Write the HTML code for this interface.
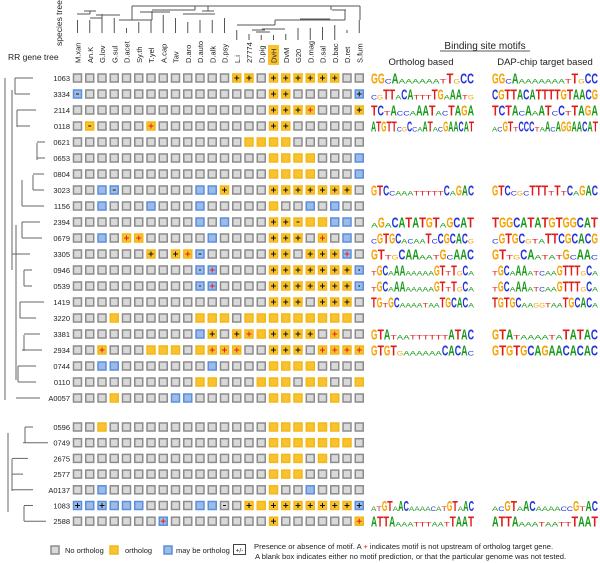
<!DOCTYPE html>
<html><head><meta charset="utf-8">
<style>
html,body{margin:0;padding:0;background:#fff;}
svg{display:block;font-family:"Liberation Sans",sans-serif;}
</style></head>
<body>
<svg id="fig" width="600" height="563" viewBox="0 0 600 563" xmlns="http://www.w3.org/2000/svg">
<g id="species-tree" stroke="#555" stroke-width="1" fill="none"></g>
<text transform="translate(62,46) rotate(-90)" font-size="8.5" fill="#222">species tree</text>
<text x="8" y="60" font-size="8.5" fill="#222">RR gene tree</text>
<g id="gene-tree" stroke="#666" stroke-width="1" fill="none"></g>
<g id="col-labels"></g>
<g id="row-labels"></g>
<g id="grid"></g>
<text x="485" y="49" font-size="10" text-anchor="middle" fill="#222">Binding site motifs</text>
<line x1="440" y1="51" x2="530" y2="51" stroke="#222" stroke-width="0.7"/>
<text x="421" y="65" font-size="9.5" text-anchor="middle" fill="#222">Ortholog based</text>
<text x="545" y="65" font-size="9.5" text-anchor="middle" fill="#222">DAP-chip target based</text>
<g id="logos"></g>
<g id="legend">
  <rect x="51" y="546" width="8" height="8" fill="#d9d9d9" stroke="#8c8c8c" stroke-width="1.5"/>
  <text x="65" y="553" font-size="7.5" fill="#222">No ortholog</text>
  <rect x="110" y="546" width="8" height="8" fill="#f9c22e" stroke="#f2b81a" stroke-width="1.5"/>
  <text x="125" y="553" font-size="7.5" fill="#222">ortholog</text>
  <rect x="164" y="546" width="8" height="8" fill="#9dbbe8" stroke="#5b8fd9" stroke-width="1.5"/>
  <text x="176" y="553" font-size="7.5" fill="#222">may be ortholog</text>
  <rect x="233.5" y="544.5" width="12" height="10" fill="#fff" stroke="#444" stroke-width="1"/>
  <text x="239.5" y="552.5" font-size="6.5" text-anchor="middle" fill="#222">+/-</text>
  <text x="254" y="549" font-size="7.6" fill="#222">Presence or absence of motif. A <tspan fill="#e02020">+</tspan> indicates motif is not upstream of ortholog target gene.</text>
  <text x="255" y="559" font-size="7.6" fill="#222">A blank box indicates either no motif prediction, or that the particular genome was not tested.</text>
</g>
</svg>
<script>
const species = ["M.xan","An.K","G.lov","G.sul","D.acet","Sy.th","T.yel","A.cap","Tav","D.aro","D.auto","D.alk","D.psy","L.i","27774","D.pig","DvH","DvM","G20","D.mag","D.sal","D.bac","D.ret","S.fum"];
const genes = ["1063","3334","2114","0118","0621","0653","0804","3023","1156","2394","0679","3305","0946","0539","1419","3220","3381","2934","0744","0110","A0057","0596","0749","2675","2577","A0137","1083","2588"];
const cells = [
"n n n n n n n n n n n n n o+ o+ n o+ o+ o+ o+ o+ o+ n n",
"m- n n n n n n n n n n n n n n n o+ o+ n n n n n m+",
"n n n n n n n n n n n n n n n n o+ o+ o+ or n n n o+",
"n o- n n n n or n n n n n n n n n o+ o+ n n n n n n",
"n n n n n n n n n n n n n n o o o o n n n n n n",
"n n n n n n n n n n n n n n n n o o o o n n n m",
"n n n n n n n n n n n n n n n n o o o o n n n m",
"n n m m- n n n n n n m m o+ n n n o+ o+ o+ o+ o+ o+ o+ n",
"n n m n n n m n n n m n n n n n o n n m n m n n",
"n n n n n n n n n n m n m n n n o+ o+ o- o o m m n",
"n n m n or or n n n n n m n n n n o+ o+ o+ n or n m n",
"n n n n n n o+ n o+ or m- n n n n n o+ o+ n o+ o+ o+ mr n",
"n n n n n n n n n n m. mr n n n n o+ o+ o+ o+ o+ o+ o+ m.",
"n n n n n n n n n n m. mr n n n n o+ o+ o+ o+ o+ o+ o+ m.",
"n n n n n n n n n n n n n n n n o+ o+ o+ n o+ o+ o+ n",
"n n n o n n n n n n o o o n o o o o o o o o o n",
"n n n n n n n n n n m o+ n o+ or o o+ o+ o+ o+ n or n n",
"n n or n n n o o o n o or or or n n o+ o+ o+ n or or or or",
"n n m m n n n n n n n m n n n n o o o o n n n n",
"n n n n n n n n n n o o n n n o o o n o o n n o",
"n n n o n n n n m m n n n n n n o o o n n o n n",
"n n o n n n n n n n n n n n n n o o o o o o n n",
"n n n n n n n n n n n n n n n n o o o o o o o n",
"n n n n n n n n n n n n n n n n o o o n o n n n",
"n n n n n n n n n n n n n n n n o o o n n n n n",
"n n m n n n n n n n n n n n n n o n n m n n n n",
"m+ m m+ m m m n n n n m m n- n o+ o o+ o+ o+ o+ o+ o+ o+ m+",
"n n n n n n n mr n n n n n n n n o+ n n n n n n or"
];
const motifGenes = ["1063","3334","2114","0118","3023","2394","0679","3305","0946","0539","1419","3381","2934","1083","2588"];
const orthoMotifs = ["GGcAaaaaaatTgCC","cgTTaCAtttTGaAAtg","TCtAccaAATacTAGA","ATGTTcgCcaATacGAACAT","GTCcaaatttttCaGAC","aGaCATATGTaGCAT","cGTGCacaaTcCGCACg","GTtgCAAaatGcAAC","tGCaAAaaaaaGTtTgCa","tGCaAAaaaaaGTtTgCa","TGtGCaaaataaTGCACa","GTAtaattttttATAC","GTGTgaaaaaaCACAc","atGTaACaaaacatGTaAC","ATTAaaatttaatTAAT"];
const dapMotifs = ["GGcAaaaaaaatTgCC","CGTTACATTTTGTAACG","TCTAcAaATcCtTAGA","acGTtCCCtaAcAGGAACAT","GTCcgcTTTtTtCaGAC","TGGCATATGTGGCAT","cGTGCgtaTTCGCACG","GTtgCAatatGcAAc","tGCaAAatcaaGTTTgCa","tGCaAAatcaaGTTTgCa","TGTGCaaggtaaTGCACa","GTAtaaaataTATAC","GTGTGCAGAACACAC","acGTaACaaaaccGtAC","ATTAaaataattTAAT"];

const NS="http://www.w3.org/2000/svg";
function mk(tag,parent,attrs){const e=document.createElementNS(NS,tag);for(const k in attrs)e.setAttribute(k,attrs[k]);parent.appendChild(e);return e;}
const colX = i => 73 + 12.25*i;
const rowY = i => i < 21 ? 78 + 16*i : 427 + 15.7*(i-21);

const cl=document.getElementById('col-labels');
species.forEach((s,i)=>{
  const cx=colX(i)+4.5;
  if(s==="DvH"){const h=mk('rect',cl,{x:cx-5.5,y:45,width:11,height:20,fill:'#f9c22e'});
    
    }
  const t=mk('text',cl,{transform:`translate(${cx+3},63) rotate(-90)`,'font-size':'7.5',fill:'#222'});
  t.textContent=s;
  
  
});
const st=document.getElementById('species-tree');
const leafTop=[20,20,18,18,28,22,20,15,18,22,20,20,18,30,34,35,35,34,28,28,27,25,30,20];
species.forEach((s,i)=>{const cx=colX(i)+4.5;mk('line',st,{x1:cx,y1:leafTop[i],x2:cx,y2:i>=13&&i<=21?40:33});});
[[77,90,14],[90,102,18],[84,96,11],[96,120,15],[119,152,20],[140,170,12],[152,195,10],[183,215,14],[202,214,11],[208,234,6],[132,360,6],[237,275,25],[252,265,30],[256,270,32],[262,285,29],[275,345,20],[300,330,19],[332,346,10]].forEach(([a,b,y])=>mk('line',st,{x1:a,y1:y,x2:b,y2:y}));
[[90,11,14],[102,14,18],[152,11,20],[195,6,10],[208,6,11],[132,6,20],[331,6,10],[360,6,20],[275,20,25],[345,10,20]].forEach(([x,a,b])=>mk('line',st,{x1:x,y1:a,x2:x,y2:b}));

const rl=document.getElementById('row-labels');
genes.forEach((g,i)=>{const t=mk('text',rl,{x:70,y:rowY(i)+3,'font-size':'7.5','text-anchor':'end',fill:'#222'});t.textContent=g;
  
  });

const gt=document.getElementById('gene-tree');
const leafStart=[15,15,17,17,37,37,33,33,22,22,22,12,24,24,20,20,24,22,18,18,16,25,23,12,12,12,24,24];
const leafEnd  =[33,30,36,30,45,45,44,44,44,40,42,30,32,32,44,36,40,42,36,36,40,33,48,28,23,33,33,46];
genes.forEach((g,i)=>{const y=rowY(i);mk('line',gt,{x1:leafStart[i],y1:y,x2:leafEnd[i],y2:y});});
[[5,78,400],[15,78,94],[17,110,127],[37,143,160],[33,175,190],[22,180,206],[22,222,238],[24,270,286],[20,302,318],[24,335,351],[18,366,382],[8,433,512],[25,427,443],[12,459,491],[24,506,521],[16,225,380],[12,90,270]].forEach(([x,a,b])=>mk('line',gt,{x1:x,y1:a,x2:x,y2:b}));

const gr=document.getElementById('grid');
const fills={n:['#d9d9d9','#8c8c8c'],o:['#f9c22e','#f2b81a'],m:['#9dbbe8','#5b8fd9']};
cells.forEach((row,r)=>{
  row.trim().split(/\s+/).forEach((c,k)=>{
    const x=colX(k)+0.5, y=rowY(r)-4;
    const [f,s]=fills[c[0]];
    const b=mk('rect',gr,{x:x,y:y,width:8,height:8,fill:f,stroke:s,'stroke-width':1.5});
    
    
    const mark=c[1];
    if(mark){
      const cx=x+4, cy=y+4;
      const col = mark==='r' ? '#e02020' : '#111';
      if(mark==='+'||mark==='r'){
        mk('line',gr,{x1:cx-2.5,y1:cy,x2:cx+2.5,y2:cy,stroke:col,'stroke-width':1});
        mk('line',gr,{x1:cx,y1:cy-2.5,x2:cx,y2:cy+2.5,stroke:col,'stroke-width':1});
      } else if(mark==='-'){
        mk('line',gr,{x1:cx-1.5,y1:cy,x2:cx+1.5,y2:cy,stroke:col,'stroke-width':1});
      } else if(mark==='.'){
        mk('circle',gr,{cx:cx,cy:cy,r:0.9,fill:'#333'});
      }
    }
  });
});

const lg=document.getElementById('logos');
const lcol={A:'#1a9a1a',C:'#2233dd',G:'#f5a200',T:'#e01b1b'};
function drawLogo(str,x0,x1,y,name){
  const g=mk('g',lg,{});
  
  
  const n=str.length; const w=(x1-x0)/n;
  for(let i=0;i<n;i++){
    const ch=str[i]; const big=ch===ch.toUpperCase(); const L=ch.toUpperCase();
    const fs=big?15:6;
    const t=mk('text',g,{x:x0+i*w,y:y+5.5,'font-size':fs,'font-weight':big?'bold':'normal',fill:lcol[L],textLength:w,lengthAdjust:'spacingAndGlyphs'});
    t.textContent=L;
  }
}
motifGenes.forEach((g,i)=>{
  const r=genes.indexOf(g); const y=rowY(r);
  drawLogo(orthoMotifs[i],371,474,y,'ortholog-logo-'+g.toLowerCase());
  drawLogo(dapMotifs[i],492,598,y,'dap-logo-'+g.toLowerCase());
});
</script>
</body></html>
